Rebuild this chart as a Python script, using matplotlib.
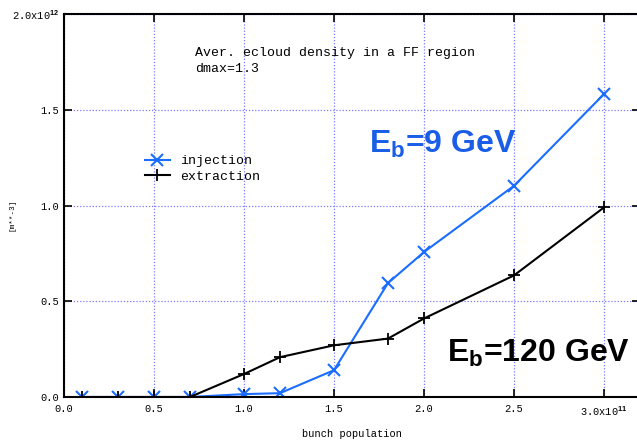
import numpy as np
import matplotlib.pyplot as plt

plt.rcParams['font.family'] = ['Liberation Mono', 'DejaVu Sans Mono']
plt.rcParams['mathtext.fontset'] = 'custom'
plt.rcParams['mathtext.rm'] = 'Liberation Sans:bold'
plt.rcParams['mathtext.bf'] = 'Liberation Sans:bold'

# bunch population (x 1e11) and ecloud density (x 1e12 m^-3)
npop = [0.1, 0.3, 0.5, 0.7, 1.0, 1.2, 1.5, 1.8, 2.0, 2.5, 3.0]
injection = [0.0, 0.0, 0.0, 0.0, 0.015, 0.02, 0.14, 0.595, 0.757, 1.103, 1.582]
extraction = [0.0, 0.0, 0.0, 0.0, 0.12, 0.208, 0.27, 0.305, 0.41, 0.635, 0.99]

xticks = [0.0, 0.5, 1.0, 1.5, 2.0, 2.5, 3.0]
xticklabels = ['0.0', '0.5', '1.0', '1.5', '2.0', '2.5', r'3.0x10$^{11}$']
yticks = [0.0, 0.5, 1.0, 1.5, 2.0]
yticklabels = ['0.0', '0.5', '1.0', '1.5', r'2.0x10$^{12}$']

blue = '#1a6dff'

fig = plt.figure(figsize=(6.37, 4.41), dpi=100)
ax = fig.add_axes([64/637, 44/441, 576/637, 383/441])

ax.plot(npop, injection, color=blue, lw=1.5, marker='x', ms=8, mew=1.5,
        label='injection')
ax.plot(npop, extraction, color='black', lw=1.5, marker='+', ms=9, mew=1.3,
        label='extraction')

ax.set_xlim(0, 3.2)
ax.set_ylim(0, 2.0)
ax.set_xticks(xticks)
ax.set_xticklabels(xticklabels)
ax.set_yticks(yticks)
ax.set_yticklabels(yticklabels)
ax.tick_params(direction='in', length=6, width=1.2, labelsize=7.5,
               top=True, right=True)
ax.tick_params(axis='x', pad=5)
ax.tick_params(axis='y', pad=3.5)
for s in ax.spines.values():
    s.set_linewidth(1.5)

ax.grid(True, color='#7a7aff', ls=(0, (1, 1.5)), lw=0.9)

ax.set_xlabel('bunch population', fontsize=7.5)
ax.xaxis.set_label_coords(0.5, -0.083)
ax.set_ylabel('[m**-3]', fontsize=5.5)
ax.yaxis.set_label_coords(-0.085, 0.475)

ax.text(0.73, 1.78, 'Aver. ecloud density in a FF region', fontsize=9.5, va='baseline')
ax.text(0.73, 1.697, 'dmax=1.3', fontsize=9.5, va='baseline')

ax.legend(loc='upper left', bbox_to_anchor=(0.14, 0.632), frameon=False,
          fontsize=9.5, handlelength=1.9, handletextpad=0.8,
          labelspacing=0.25, borderpad=0, borderaxespad=0)

ax.text(1.697, 1.274, r'E$_\mathbf{b}$=9 GeV', fontsize=23, color='#1a5ee8',
        fontweight='bold', family='Liberation Sans', va='baseline')
ax.text(2.125, 0.183, r'E$_\mathbf{b}$=120 GeV', fontsize=23, color='black',
        fontweight='bold', family='Liberation Sans', va='baseline')

fig.savefig('out.png', dpi=100)
